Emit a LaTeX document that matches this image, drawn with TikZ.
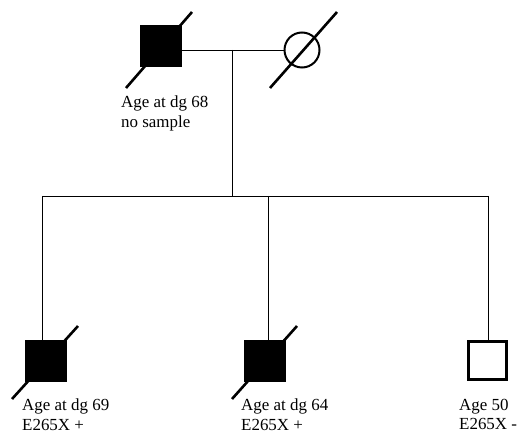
\documentclass[tikz,border=0pt]{standalone}
\usepackage{fontspec}
\setmainfont{Liberation Serif}
\begin{document}
\begin{tikzpicture}[x=1bp,y=-1bp,
  affected/.style={draw=black,fill=black,minimum size=41bp,inner sep=0pt,line width=0.8bp},
  healthy/.style={draw=black,minimum size=38bp,inner sep=0pt,line width=3bp},
  femalesym/.style={circle,draw=black,minimum size=35bp,inner sep=0pt,line width=2bp},
  deceased/.style={line width=2.6bp},
  link/.style={line width=0.8bp},
  lbl/.style={font=\fontsize{17}{19.5}\selectfont,align=left,anchor=north west,inner sep=0pt}]
\useasboundingbox (0,0) rectangle (520,434);
% parents
\node[affected] (f) at (160.5,46) {};
\node[femalesym] (m) at (302,50) {};
\draw[deceased] (126,88) coordinate (fd1) -- (192,12) coordinate (fd2);
\draw[deceased] (270,88) coordinate (md1) -- (337,12) coordinate (md2);
\coordinate (mid) at (232,50);
\draw[link] (f.east |- mid) -- (m.west |- mid);
\coordinate (sibc) at (232,196);
\draw[link] (mid) -- (sibc);
\coordinate (s1) at (42,196);
\coordinate (s2) at (268,196);
\coordinate (s3) at (488,196);
\draw[link] (s1) -- (s3);
% children
\node[affected] (c1) at (45.5,360.5) {};
\node[affected] (c2) at (264.5,360.5) {};
\node[healthy] (c3) at (487.5,360) {};
\draw[deceased] (12,399) -- (78,326);
\draw[deceased] (232,399) -- (297,326);
\draw[link] (s1) -- (s1 |- c1.north);
\draw[link] (s2) -- (s2 |- c2.north);
\draw[link] (s3) -- (s3 |- c3.north);
% labels
\node[lbl] (lf) at (121,96) {Age at dg 68\\no sample};
\node[lbl] (l1) at (22,399) {Age at dg 69\\E265X +};
\node[lbl] (l2) at (241,399) {Age at dg 64\\E265X +};
\node[lbl] (l3) at (459,399) {Age 50\\E265X -};
\end{tikzpicture}
\end{document}
